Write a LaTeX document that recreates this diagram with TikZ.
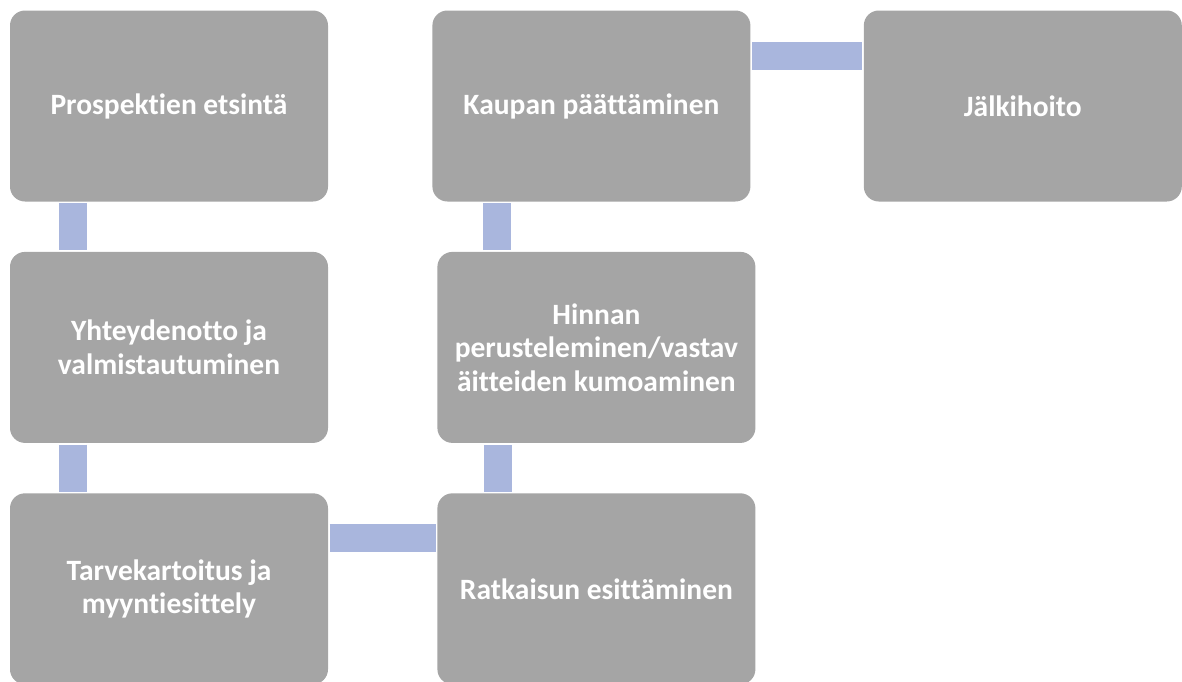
\documentclass[tikz,border=0pt]{standalone}
\usepackage{fontspec}
\setmainfont{Carlito}[Ligatures=NoCommon]
\usetikzlibrary{calc,positioning}
\definecolor{boxgray}{HTML}{A5A5A5}
\definecolor{barblue}{HTML}{A9B6DD}
\tikzset{stage/.style={fill=boxgray, rounded corners=15pt, minimum width=318pt, minimum height=191pt,
    inner sep=0pt, align=center, text=white, font=\bfseries\fontsize{29.5}{33.5}\selectfont},
  bar/.style={draw=barblue, line width=28pt, shorten >=1.5pt, shorten <=1.5pt}}

\begin{document}
\begin{tikzpicture}[node distance=50pt]
  \useasboundingbox (0,0) rectangle (1182pt,-681pt);
  % left column, top to bottom
  \node[stage] (pros) at (169pt,-106pt) {Prospektien etsintä};
  \node[stage, below=of pros] (yht) {Yhteydenotto ja\\valmistautuminen};
  \node[stage, below=of yht] (tarve) {Tarvekartoitus ja\\myyntiesittely};
  % middle column, bottom to top
  \node[stage, right=109pt of tarve] (ratk) {Ratkaisun esittäminen};
  \node[stage, above=of ratk] (hinta) {Hinnan\\perusteleminen/vastav\\äitteiden kumoaminen};
  \node[stage, above=of hinta, xshift=-5pt] (kauppa) {Kaupan päättäminen};
  \node[stage, right=113pt of kauppa] (jalki) {Jälkihoito};
  % links
  \draw[bar] ($(pros.south west)+(63pt,0)$) -- ($(yht.north west)+(63pt,0)$);
  \draw[bar] ($(yht.south west)+(63pt,0)$) -- ($(tarve.north west)+(63pt,0)$);
  \draw[bar] ($(tarve.north east)+(0,-45pt)$) -- ($(ratk.north west)+(0,-45pt)$);
  \draw[bar] ($(ratk.north west)+(61pt,0)$) -- ($(hinta.south west)+(61pt,0)$);
  \draw[bar] ($(hinta.north west)+(60pt,0)$) -- ($(kauppa.south west)+(65pt,0)$);
  \draw[bar] ($(kauppa.north east)+(0,-46pt)$) -- ($(jalki.north west)+(0,-46pt)$);
\end{tikzpicture}
\end{document}
